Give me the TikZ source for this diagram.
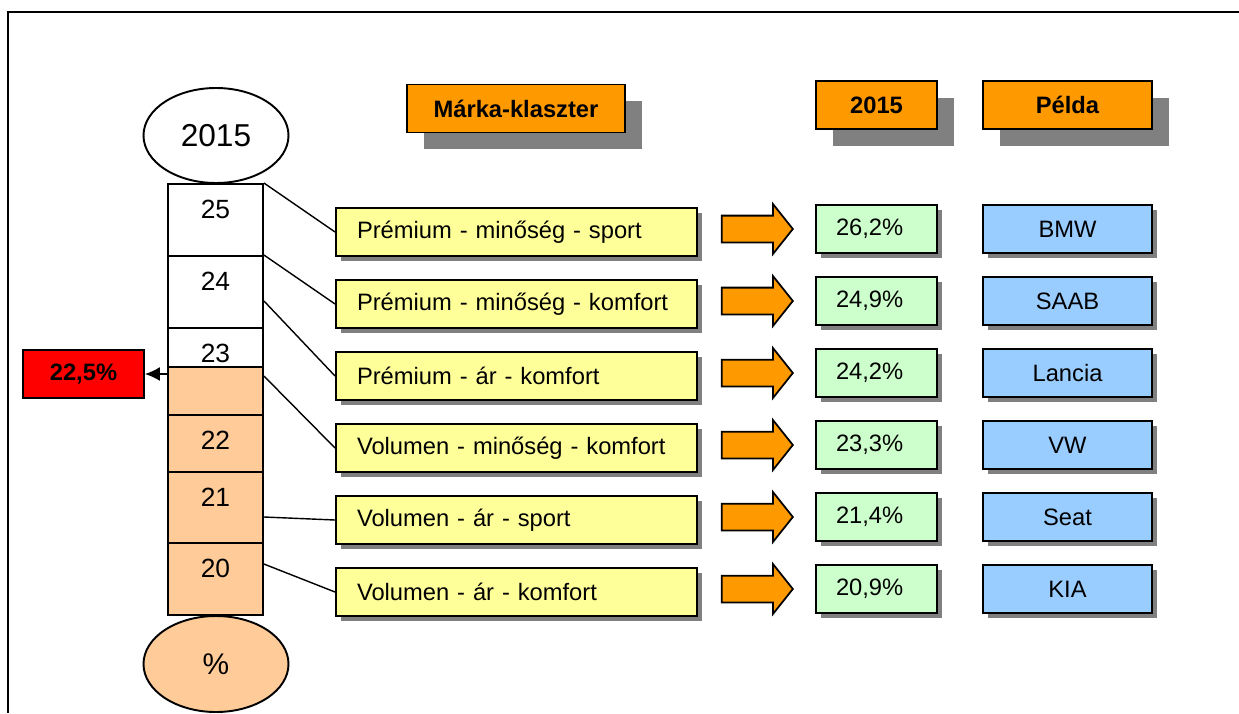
\documentclass[tikz,border=0pt]{standalone}
\usepackage{fontspec}
\setmainfont{Liberation Sans}
\usetikzlibrary{shapes.geometric,shapes.arrows,shadows,arrows.meta}

\definecolor{narancs}{HTML}{FF9900}
\definecolor{sarga}{HTML}{FFFF99}
\definecolor{zold}{HTML}{CCFFCC}
\definecolor{kek}{HTML}{99CCFF}
\definecolor{barack}{HTML}{FFCC99}

\tikzstyle{betu}=[font=\fontsize{13.5pt}{16pt}\selectfont]
\tikzstyle{fej}=[draw,line width=1.1pt,fill=narancs,font=\fontsize{13.5pt}{16pt}\selectfont\bfseries,minimum height=0.96cm,
  drop shadow={shadow xshift=0.33cm,shadow yshift=-0.33cm,fill=black!50,opacity=1}]
\tikzstyle{klaszter}=[draw,line width=1.1pt,fill=sarga,betu,minimum height=0.96cm,text width=6.38cm,
  inner xsep=0.42cm,align=left,drop shadow={shadow xshift=0.1cm,shadow yshift=-0.1cm,fill=black!50,opacity=1}]
\tikzstyle{ertek}=[draw,line width=1.1pt,fill=zold,betu,minimum height=0.96cm,text width=1.62cm,
  inner xsep=0.4cm,align=left,drop shadow={shadow xshift=0.1cm,shadow yshift=-0.1cm,fill=black!50,opacity=1}]
\tikzstyle{pelda}=[draw,line width=1.1pt,fill=kek,betu,minimum height=0.96cm,minimum width=3.38cm,
  drop shadow={shadow xshift=0.1cm,shadow yshift=-0.1cm,fill=black!50,opacity=1}]
\tikzstyle{nyil}=[draw,line width=1pt,fill=narancs,single arrow,single arrow head extend=0.23cm,
  single arrow tip angle=103,inner xsep=0pt,inner ysep=0.25cm,minimum height=1.42cm]
\tikzstyle{szakasz}=[draw,line width=1.1pt,minimum width=1.9cm,inner sep=0pt]
\tikzstyle{szam}=[anchor=center,yshift=-0.52cm,font=\fontsize{15pt}{18pt}\selectfont]
\tikzstyle{vonal}=[line width=0.8pt]

\begin{document}
\begin{tikzpicture}
\useasboundingbox (0,0) rectangle (24.78,-14.26);
\draw[line width=1.2pt] (24.78,-0.24) -- (0.16,-0.24) -- (0.16,-14.26);

\node[draw,ellipse,line width=1.1pt,minimum width=2.9cm,minimum height=1.9cm,inner sep=0pt,
  font=\fontsize{18pt}{21pt}\selectfont] at (4.32,-2.71) (e-ev) {2015};
\node[szakasz,minimum height=1.44cm,label={[szam]north:25}] at (4.31,-4.40) (s-25) {};
\node[szakasz,minimum height=1.44cm,label={[szam]north:24}] at (4.31,-5.84) (s-24) {};
\node[szakasz,minimum height=0.78cm,label={[szam]north:23}] at (4.31,-6.95) (s-23) {};
\node[szakasz,fill=barack,minimum height=0.96cm] at (4.31,-7.82) (s-x) {};
\node[szakasz,fill=barack,minimum height=1.14cm,label={[szam]north:22}] at (4.31,-8.87) (s-22) {};
\node[szakasz,fill=barack,minimum height=1.42cm,label={[szam]north:21}] at (4.31,-10.15) (s-21) {};
\node[szakasz,fill=barack,minimum height=1.44cm,label={[szam]north:20}] at (4.31,-11.58) (s-20) {};
\node[draw,ellipse,line width=1.1pt,fill=barack,minimum width=2.9cm,minimum height=1.92cm,inner sep=0pt,
  font=\fontsize{17pt}{20pt}\selectfont] at (4.32,-13.28) (e-sz) {\%};

\node[draw,line width=1.1pt,fill=red,font=\fontsize{13.5pt}{16pt}\selectfont\bfseries,minimum width=2.42cm,minimum height=0.96cm]
  at (1.67,-7.48) (atlag) {22,5\%};
\draw[vonal,-{Latex[length=0.3cm,width=0.28cm]}] (atlag.east -| s-x.west) -- (atlag.east);

\node[fej,minimum width=4.36cm] at (10.32,-2.17) (h-mk) {Márka-klaszter};
\node[fej,minimum width=2.42cm] at (17.53,-2.10) (h-ev) {2015};
\node[fej,minimum width=3.38cm] at (21.35,-2.10) (h-p)  {Példa};

\node[klaszter] at (10.33,-4.64)  (k-pms) {Prémium - minőség - sport};
\node[klaszter] at (10.33,-6.08)  (k-pmk) {Prémium - minőség - komfort};
\node[klaszter] at (10.33,-7.52)  (k-pak) {Prémium - ár - komfort};
\node[klaszter] at (10.33,-8.96)  (k-vmk) {Volumen - minőség - komfort};
\node[klaszter] at (10.33,-10.40) (k-vas) {Volumen - ár - sport};
\node[klaszter] at (10.33,-11.84) (k-vak) {Volumen - ár - komfort};

\draw[vonal] (s-25.north east) -- (k-pms.west);
\draw[vonal] (s-24.north east) -- (k-pmk.west);
\draw[vonal] ([yshift=-0.18cm]s-24.east) -- (k-pak.west);
\draw[vonal] ([yshift=-0.2cm]s-x.north east) -- (k-vmk.west);
\draw[vonal] ([yshift=-0.19cm]s-21.east) -- (k-vas.west);
\draw[vonal] ([yshift=-0.44cm]s-20.north east) -- (k-vak.west);

\node[nyil] at (15.04,-4.58)  (n-pms) {};
\node[nyil] at (15.04,-6.02)  (n-pmk) {};
\node[nyil] at (15.04,-7.46)  (n-pak) {};
\node[nyil] at (15.04,-8.90)  (n-vmk) {};
\node[nyil] at (15.04,-10.34) (n-vas) {};
\node[nyil] at (15.04,-11.78) (n-vak) {};

\node[ertek] at (17.53,-4.58)  (e-pms) {26,2\%};
\node[ertek] at (17.53,-6.02)  (e-pmk) {24,9\%};
\node[ertek] at (17.53,-7.46)  (e-pak) {24,2\%};
\node[ertek] at (17.53,-8.90)  (e-vmk) {23,3\%};
\node[ertek] at (17.53,-10.34) (e-vas) {21,4\%};
\node[ertek] at (17.53,-11.78) (e-vak) {20,9\%};

\node[pelda] at (21.35,-4.58)  (p-pms) {BMW};
\node[pelda] at (21.35,-6.02)  (p-pmk) {SAAB};
\node[pelda] at (21.35,-7.46)  (p-pak) {Lancia};
\node[pelda] at (21.35,-8.90)  (p-vmk) {VW};
\node[pelda] at (21.35,-10.34) (p-vas) {Seat};
\node[pelda] at (21.35,-11.78) (p-vak) {KIA};
\end{tikzpicture}
\end{document}
